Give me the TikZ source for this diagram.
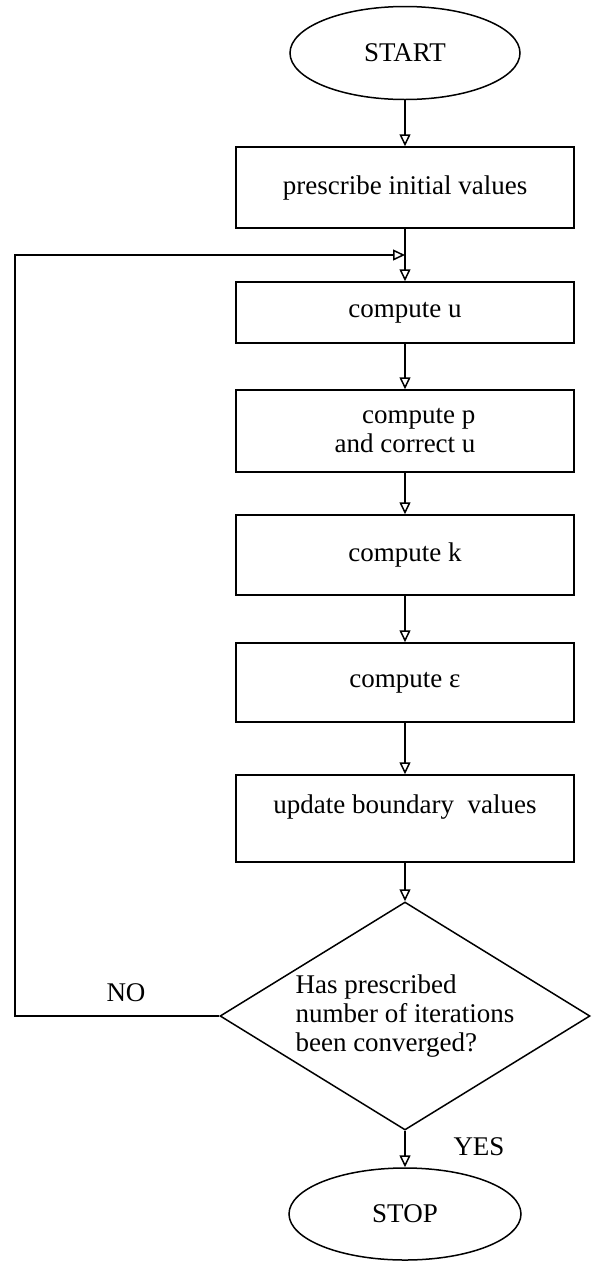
\documentclass[tikz,border=0pt]{standalone}
\usepackage{fontspec}
\setmainfont{Liberation Serif}
\usetikzlibrary{shapes,arrows.meta}

\begin{document}
\begin{tikzpicture}[x=1pt,y=-1pt,line width=1.5pt,font=\fontsize{27}{29}\selectfont]
\tikzstyle{term}=[draw,ellipse,minimum width=230pt,minimum height=93pt]
\tikzstyle{proc}=[draw,rectangle,minimum width=338pt]
\tikzstyle{decide}=[draw,diamond,aspect=1.62,minimum width=370pt,minimum height=228pt,inner sep=0pt,align=left]
\tikzstyle{flow}=[-{Triangle[open,length=12pt,width=11pt]}]
\useasboundingbox (0,0) rectangle (599,1262);

\node [term] (start) at (405,53) {START};
\node [proc,minimum height=81pt,below of=start,node distance=134.5pt] (init) {prescribe initial values};
\node [proc,minimum height=61pt,below of=init,node distance=125pt] (compu) {compute u};
\node [proc,minimum height=82pt,align=right,below of=compu,node distance=118.5pt] (compp) {compute p\\and correct u};
\node [proc,minimum height=80pt,below of=compp,node distance=124pt] (compk) {compute k};
\node [proc,minimum height=79pt,below of=compk,node distance=127.5pt] (compeps) {compute ε};
\node [proc,minimum height=87pt,align=center,below of=compeps,node distance=136pt] (bound) {update boundary\ \ values\\ \mbox{}};
\node [decide,below of=bound,node distance=197.5pt] (conv) {Has prescribed\\number of iterations\\been converged?};
\node [term,minimum width=232pt,minimum height=92pt,below of=conv,node distance=198pt] (stop) {STOP};

\node (no) at (126,993) {NO};
\node (yes) at (479,1147) {YES};

\coordinate (back) at (15,255);
\coordinate (join) at (405,255);

\draw[flow] (start) -- (init);
\draw[flow] (init) -- (compu);
\draw[flow] (compu) -- (compp);
\draw[flow] (compp) -- (compk);
\draw[flow] (compk) -- (compeps);
\draw[flow] (compeps) -- (bound);
\draw[flow] (bound) -- (conv);
\draw[flow] (conv) -- (stop);
\draw[flow] (conv.west) -| (back) -- (join);
\end{tikzpicture}
\end{document}
